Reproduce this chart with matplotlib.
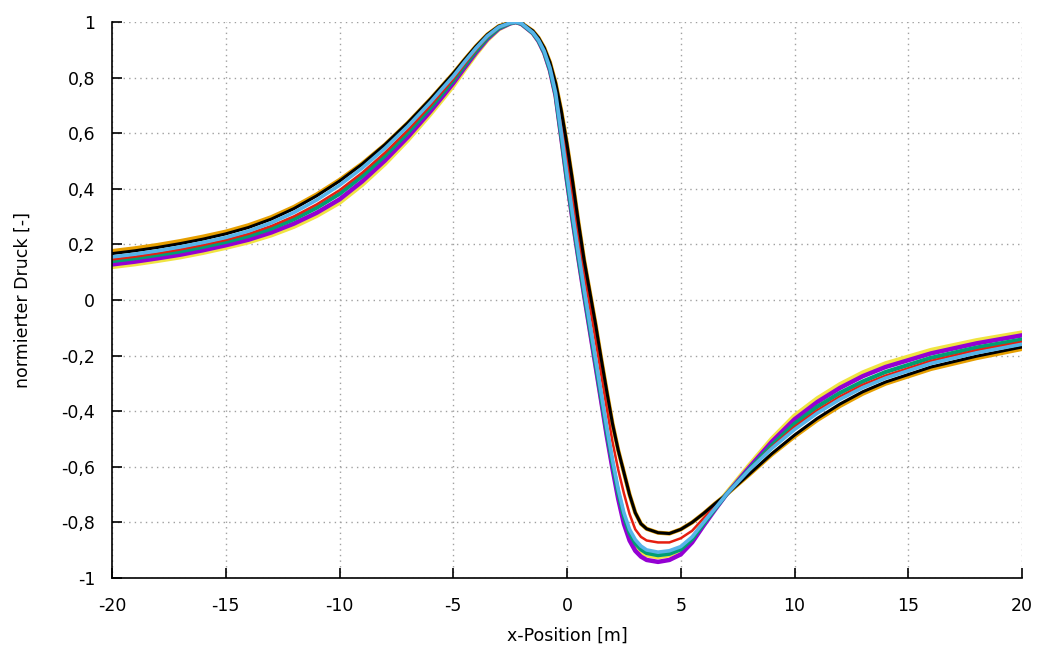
import matplotlib
matplotlib.use("Agg")
import matplotlib.pyplot as plt
from matplotlib.ticker import FuncFormatter

x_pos = [-20, -19, -18, -17, -16, -15, -14, -13, -12, -11, -10, -9, -8, -7, -6,
         -5.5, -5, -4.5, -4, -3.5, -3, -2.5, -2.25,
         -2.0,
         -1.5, -1.25, -1.0, -0.75, -0.5, -0.25, 0, 0.25, 0.5, 0.75, 1.0,
         1.25, 1.5, 1.75, 2.0, 2.25, 2.5, 2.75, 3.0, 3.25, 3.5,
         4.0, 4.5, 5.0, 5.5, 6, 6.5, 7,
         8, 9, 10, 11, 12, 13, 14,
         16, 18, 20]

black = [0.167, 0.177, 0.189, 0.203, 0.219, 0.238, 0.261, 0.291, 0.329, 0.375, 0.428, 0.489, 0.559, 0.637, 0.723,
         0.769, 0.815, 0.865, 0.913, 0.955, 0.985, 0.998, 1.000,
         0.996,
         0.968, 0.943, 0.907, 0.855, 0.780, 0.680, 0.560, 0.425, 0.280, 0.145, 0.030,
         -0.085, -0.210, -0.330, -0.445, -0.540, -0.620, -0.700, -0.765, -0.805, -0.823,
         -0.837, -0.840, -0.825, -0.800, -0.768, -0.733, -0.700,
         -0.627, -0.553, -0.486, -0.426, -0.374, -0.330, -0.295,
         -0.241, -0.202, -0.169]
orange = [0.176, 0.186, 0.198, 0.212, 0.228, 0.246, 0.269, 0.298, 0.335, 0.380, 0.432, 0.491, 0.559, 0.637, 0.723,
          0.769, 0.815, 0.865, 0.913, 0.955, 0.985, 0.998, 1.000,
          0.996,
          0.968, 0.943, 0.907, 0.855, 0.780, 0.680, 0.560, 0.425, 0.280, 0.145, 0.030,
          -0.085, -0.210, -0.330, -0.445, -0.540, -0.620, -0.700, -0.765, -0.805, -0.823,
          -0.837, -0.840, -0.825, -0.800, -0.768, -0.733, -0.700,
          -0.629, -0.556, -0.491, -0.432, -0.381, -0.337, -0.301,
          -0.248, -0.209, -0.176]
light_blue = [0.155, 0.165, 0.177, 0.191, 0.207, 0.225, 0.248, 0.278, 0.315, 0.360, 0.413, 0.475, 0.546, 0.625, 0.712,
              0.759, 0.805, 0.857, 0.906, 0.950, 0.982, 0.997, 1.000,
              0.995,
              0.962, 0.935, 0.895, 0.835, 0.745, 0.600, 0.450, 0.305, 0.170, 0.040, -0.085,
              -0.210, -0.335, -0.460, -0.575, -0.680, -0.765, -0.825, -0.862, -0.885, -0.899,
              -0.907, -0.902, -0.887, -0.852, -0.800, -0.750, -0.700,
              -0.612, -0.534, -0.466, -0.407, -0.357, -0.315, -0.281,
              -0.228, -0.190, -0.159]
red = [0.146, 0.156, 0.168, 0.182, 0.198, 0.216, 0.238, 0.266, 0.301, 0.344, 0.395, 0.458, 0.530, 0.611, 0.700,
       0.748, 0.795, 0.849, 0.900, 0.946, 0.980, 0.996, 1.000,
       0.995,
       0.966, 0.940, 0.902, 0.847, 0.765, 0.645, 0.515, 0.370, 0.230, 0.100, -0.020,
       -0.140, -0.265, -0.390, -0.510, -0.610, -0.695, -0.770, -0.825, -0.852, -0.865,
       -0.872, -0.872, -0.857, -0.830, -0.785, -0.740, -0.700,
       -0.612, -0.529, -0.456, -0.397, -0.347, -0.305, -0.272,
       -0.219, -0.181, -0.151]
green = [0.140, 0.150, 0.162, 0.175, 0.191, 0.209, 0.230, 0.257, 0.291, 0.332, 0.382, 0.446, 0.519, 0.601, 0.692,
         0.741, 0.790, 0.844, 0.896, 0.943, 0.978, 0.996, 1.000,
         0.994,
         0.961, 0.933, 0.892, 0.830, 0.740, 0.590, 0.435, 0.293, 0.158, 0.028, -0.097,
         -0.222, -0.348, -0.473, -0.588, -0.693, -0.778, -0.838, -0.875, -0.897, -0.910,
         -0.918, -0.913, -0.897, -0.860, -0.805, -0.752, -0.700,
         -0.610, -0.522, -0.445, -0.384, -0.334, -0.293, -0.259,
         -0.208, -0.171, -0.142]
purple = [0.128, 0.138, 0.150, 0.163, 0.179, 0.197, 0.217, 0.243, 0.275, 0.314, 0.362, 0.427, 0.502, 0.586, 0.679,
          0.729, 0.780, 0.836, 0.890, 0.939, 0.976, 0.995, 1.000,
          0.993,
          0.960, 0.931, 0.889, 0.826, 0.735, 0.583, 0.428, 0.285, 0.150, 0.018, -0.108,
          -0.235, -0.362, -0.490, -0.607, -0.715, -0.805, -0.865, -0.902, -0.923, -0.935,
          -0.942, -0.935, -0.915, -0.872, -0.812, -0.755, -0.700,
          -0.603, -0.510, -0.429, -0.367, -0.316, -0.274, -0.241,
          -0.192, -0.156, -0.127]
yellow = [0.119, 0.129, 0.141, 0.154, 0.170, 0.188, 0.208, 0.233, 0.264, 0.303, 0.350, 0.415, 0.490, 0.575, 0.669,
          0.719, 0.770, 0.828, 0.884, 0.935, 0.974, 0.995, 1.000,
          0.993,
          0.960, 0.931, 0.889, 0.827, 0.737, 0.586, 0.431, 0.289, 0.154, 0.023, -0.103,
          -0.229, -0.355, -0.481, -0.597, -0.703, -0.790, -0.850, -0.886, -0.906, -0.918,
          -0.925, -0.918, -0.898, -0.858, -0.800, -0.747, -0.695,
          -0.595, -0.499, -0.416, -0.354, -0.303, -0.261, -0.228,
          -0.180, -0.145, -0.117]

x_ticks = [-20, -15, -10, -5, 0, 5, 10, 15, 20]
y_ticks = [-1, -0.8, -0.6, -0.4, -0.2, 0, 0.2, 0.4, 0.6, 0.8, 1]

# drawing order: first one ends up at the bottom
curves = [
    (orange, "#e69f00", 3.0),
    (yellow, "#f0e442", 3.2),
    (purple, "#9400d3", 3.2),
    (green, "#009e73", 3.0),
    (red, "#e51e10", 1.8),
    (black, "#000000", 2.2),
    (light_blue, "#56b4e9", 2.6),
]

plt.rcParams["font.family"] = ["DejaVu Sans"]

fig = plt.figure(figsize=(10.4, 6.48), dpi=100)
ax = fig.add_axes([0.1077, 0.108, 0.875, 0.858])

for values, color, lw in curves:
    ax.plot(x_pos, values, color=color, lw=lw, solid_joinstyle="round", solid_capstyle="round")

ax.set_xlim(-20, 20)
ax.set_ylim(-1, 1)
ax.set_xticks(x_ticks)
ax.set_yticks(y_ticks)
ax.yaxis.set_major_formatter(FuncFormatter(lambda v, _: f"{v:g}".replace(".", ",")))
ax.xaxis.set_major_formatter(FuncFormatter(lambda v, _: f"{v:g}"))

ax.grid(True, color="#a0a0a0", linestyle=(0, (1, 3)), linewidth=1.0)
ax.set_axisbelow(True)
for side in ("top", "right"):
    ax.spines[side].set_visible(False)
for side in ("left", "bottom"):
    ax.spines[side].set_linewidth(1.2)
ax.tick_params(direction="in", length=7, width=1.2, labelsize=12.5, colors="#000000")
ax.tick_params(axis="y", pad=12)
ax.tick_params(axis="x", pad=14)

ax.set_xlabel("x-Position [m]", fontsize=12.5, labelpad=8)
ax.set_ylabel("normierter Druck [-]", fontsize=12.5, labelpad=21)

fig.savefig("out.png", dpi=100)
